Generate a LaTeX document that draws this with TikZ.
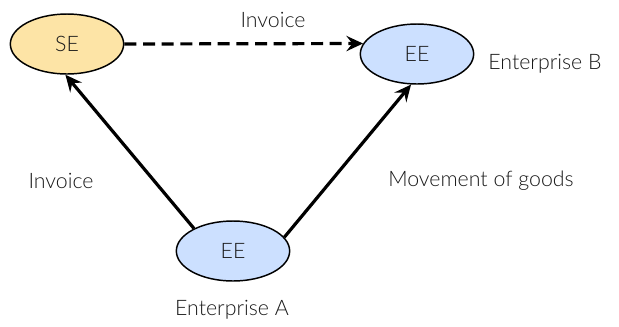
\documentclass[tikz,border=0pt]{standalone}
\usepackage{fontspec}
\setmainfont{Lato}[UprightFont=* Light]
\usepackage{xcolor}
\definecolor{seFill}{RGB}{253, 228, 166}
\definecolor{eeFill}{RGB}{204, 224, 255}
\definecolor{txt}{RGB}{25, 25, 25}
\usetikzlibrary{arrows.meta, shapes.geometric}

\begin{document}
\begin{tikzpicture}[x=0.75pt, y=-0.75pt, font=\fontsize{16}{19}\selectfont\color{txt},
	ent/.style={ellipse, draw=black, line width=1.1pt, minimum width=85pt, minimum height=45pt, inner sep=0pt},
	flow/.style={line width=2.4pt, -{Stealth[length=12.5pt, width=11.5pt, inset=4.5pt]}}]
	\useasboundingbox (0,0) rectangle (619,326);
	\node[ent, fill=seFill] (se) at (67,44) {SE};
	\node[ent, fill=eeFill] (eeB) at (417,54) {EE};
	\node[ent, fill=eeFill] (eeA) at (233,251) {EE};
	\draw[flow, dashed, dash pattern=on 9pt off 5pt] (se.east) -- (eeB.169);
	\draw[flow] (eeA.150) -- (se.-93);
	\draw[flow] (eeA.15) -- (eeB.-101);
	\node (invTop) at (273,20) {Invoice};
	\node (invLeft) at (61,181) {Invoice};
	\node (goods) at (481,181) {Movement of goods};
	\node (entB) at (545,64) {Enterprise B};
	\node (entA) at (232,310) {Enterprise A};
\end{tikzpicture}
\end{document}
